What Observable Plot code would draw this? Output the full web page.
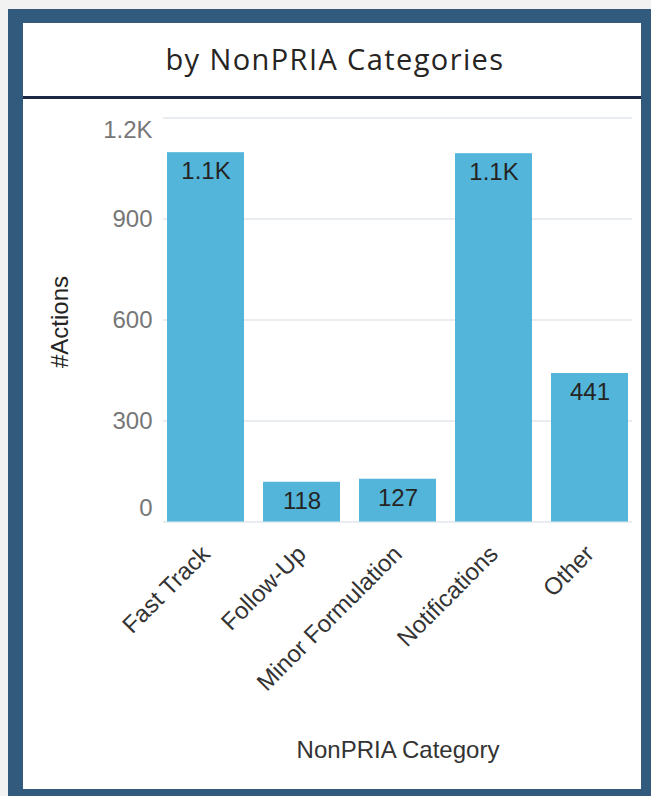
<!DOCTYPE html>
<html>
<head>
<meta charset="utf-8">
<script src="https://cdn.jsdelivr.net/npm/d3@7"></script>
<script src="https://cdn.jsdelivr.net/npm/@observablehq/plot@0.6"></script>
<style>
  html, body { margin: 0; padding: 0; }
  body { width: 651px; height: 796px; background: #f2f2f2; position: relative; overflow: hidden; }
  #frame { position: absolute; left: 8px; top: 9px; width: 643px; height: 787px; background: #325a7d; }
  #panel { position: absolute; left: 23px; top: 23px; width: 618px; height: 766px; background: #ffffff; }
  #title { position: absolute; left: 6px; top: 0; width: 612px; height: 73px; line-height: 72px; text-align: center;
           font-family: "Open Sans", sans-serif; font-size: 29px; letter-spacing: 1.4px; color: #252423; }
  #rule { position: absolute; left: 0; top: 73px; width: 618px; height: 3px; background: #1b2744; }
  #chart { position: absolute; left: 0; top: 76px; }
</style>
</head>
<body>
<div id="frame"></div>
<div id="panel">
  <div id="title">by NonPRIA Categories</div>
  <div id="rule"></div>
  <div id="chart"></div>
</div>
<script>
const categories = ["Fast Track", "Follow-Up", "Minor Formulation", "Notifications", "Other"];
const actions = [1097, 118, 127, 1094, 441];
const yTicks = [0, 300, 600, 900, 1200];

const fmt = d => d >= 1000 ? (d / 1000).toFixed(1) + "K" : String(d);
const data = categories.map((c, i) => ({category: c, actions: actions[i]}));

const chart = Plot.plot({
  width: 618,
  height: 690,
  marginLeft: 140,
  marginRight: 9,
  marginTop: 18.5,
  marginBottom: 267.5,
  style: {fontFamily: "'Liberation Sans', Arial, sans-serif", fontSize: "24px", background: "transparent", overflow: "visible"},
  x: {domain: categories, paddingInner: 0.2, paddingOuter: 0.04},
  y: {domain: [0, 1200]},
  marks: [
    Plot.ruleY(yTicks, {stroke: "#e9edf1", strokeWidth: 2}),
    Plot.barY(data, {x: "category", y: "actions", fill: "#53b5d9"}),
    Plot.text(data, {x: "category", y: "actions", text: d => fmt(d.actions), dy: 19, lineAnchor: "middle", fill: "#252423", fontSize: 24}),
    Plot.axisY([300, 600, 900], {tickSize: 0, tickPadding: 11, tickFormat: fmt, color: "#777777", fontSize: 24, label: null}),
    Plot.axisY([1200], {tickSize: 0, tickPadding: 11, tickFormat: fmt, color: "#777777", fontSize: 24, dy: 12, label: null}),
    Plot.axisY([0], {tickSize: 0, tickPadding: 11, tickFormat: fmt, color: "#777777", fontSize: 24, dy: -14, label: null}),
    Plot.text(["#Actions"], {frameAnchor: "left", textAnchor: "middle", lineAnchor: "middle", rotate: -90, dx: -103, dy: 2, fill: "#252423", fontSize: 24}),
    Plot.axisX({tickSize: 0, tickPadding: 28, tickRotate: -45, color: "#333333", fontSize: 24, label: "NonPRIA Category", labelAnchor: "center", labelOffset: 236, labelArrow: "none"})
  ]
});
document.getElementById("chart").appendChild(chart);
</script>
</body>
</html>
